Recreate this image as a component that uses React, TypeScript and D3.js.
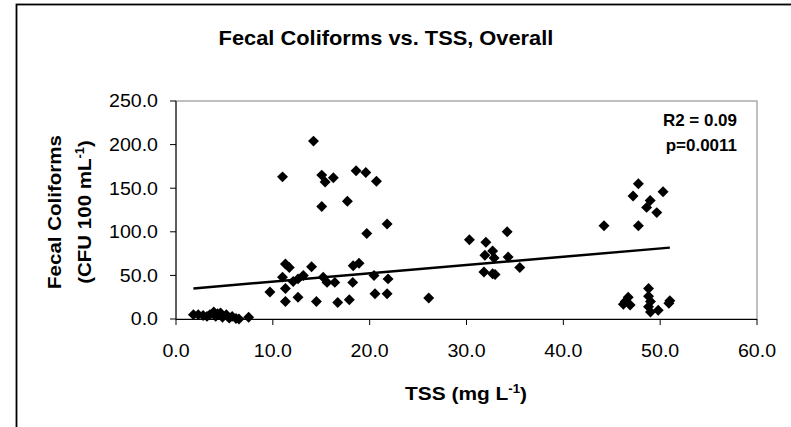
import React from "react";
import * as d3 from "d3";

const tssValues: number[] = [
  1.8, 2.3, 2.8, 3.2, 3.5, 3.9, 4.1, 4.3, 4.6, 4.8, 5.2, 5.5, 5.8, 6.2, 6.5, 7.5,
  14.2, 11.0, 15.05, 15.4, 16.25, 18.6, 19.6, 20.7, 15.05, 17.7, 19.7,
  11.3, 11.7, 11.0, 11.3, 9.7, 11.3, 12.6, 12.1, 12.6, 13.15, 14.0, 14.5, 15.2, 15.6, 16.4,
  16.7, 17.9, 18.25, 18.3, 18.9, 20.45, 20.55, 21.8, 21.9, 21.8, 26.1,
  30.3, 32.0, 34.2, 31.9, 32.7, 32.85, 34.3, 31.8, 32.7, 32.95, 35.5,
  47.75, 47.2, 50.3, 48.97, 48.6, 49.65, 44.2, 47.75,
  46.7, 46.4, 46.2, 46.9, 48.8, 48.8, 49.0, 48.8, 49.0, 49.8, 50.9, 51.0,
];
const fecalValues: number[] = [
  5, 5, 4, 3, 5, 8, 3, 6, 7, 2, 5, 1, 3, 0.5, 0, 2,
  204, 163, 165, 157, 162, 170, 168, 158, 129, 135, 98,
  63, 59, 48, 35, 31, 20, 25, 43, 46, 50, 60, 20, 48, 42, 42,
  19, 22, 42, 61, 64, 50, 29, 109, 46, 29, 24,
  91, 88, 100, 73, 78, 70, 71, 54, 52, 51, 59,
  155, 141, 146, 136, 128, 122, 107, 107,
  25, 20, 17, 16, 35, 26, 20, 14, 8, 10, 18, 21,
];

const xTicks: number[] = [0, 10, 20, 30, 40, 50, 60];
const yTicks: number[] = [0, 50, 100, 150, 200, 250];
const trendIntercept = 33.4;
const trendSlope = 0.95;

const titleText = "Fecal Coliforms vs. TSS, Overall";
const statsLines: string[] = ["R2 = 0.09", "p=0.0011"];

const W = 791;
const H = 427;
const plot = { left: 176, right: 757, top: 101, bottom: 319 };
const FONT = "'Liberation Sans', Arial, sans-serif";
const SX = 1.12;

function T(props: { x: number; y: number; anchor?: string; size: number; bold?: boolean; sx?: number; rotate?: number; children: React.ReactNode }) {
  const { x, y, anchor = "start", size, bold, sx = SX, rotate = 0, children } = props;
  return (
    <g transform={`translate(${x},${y}) rotate(${rotate}) scale(${sx},1)`}>
      <text x={0} y={0} textAnchor={anchor as any} fontSize={size} fontWeight={bold ? "bold" : "normal"}>
        {children}
      </text>
    </g>
  );
}

export default function App() {
  const x = d3.scaleLinear().domain([0, 60]).range([plot.left, plot.right]);
  const y = d3.scaleLinear().domain([0, 250]).range([plot.bottom, plot.top]);
  const diamond = d3.symbol(d3.symbolSquare, 60)() as string;
  const xMin = d3.min(tssValues) as number;
  const xMax = d3.max(tssValues) as number;
  const trendPts: [number, number][] = [xMin, xMax].map((v) => [x(v), y(trendIntercept + trendSlope * v)]);
  const line = d3.line();

  return (
    <svg width={W} height={H} style={{ position: "absolute", left: 0, top: 0, background: "#fff" }} fontFamily={FONT}>
      <rect x={0} y={0} width={W} height={H} fill="#fff" />
      <rect x={16.5} y={4.5} width={W + 20} height={H + 20} fill="none" stroke="#000" strokeWidth={1.8} />
      <T x={386} y={45} anchor="middle" size={19.5} bold>{titleText}</T>

      <rect x={plot.left} y={plot.top} width={plot.right - plot.left} height={plot.bottom - plot.top} fill="none" stroke="#808080" strokeWidth={1} />
      <line x1={plot.left} x2={plot.left} y1={plot.top} y2={plot.bottom} stroke="#000" />
      <line x1={plot.left} x2={plot.right} y1={plot.bottom + 0.5} y2={plot.bottom + 0.5} stroke="#000" />

      {yTicks.map((t) => (
        <g key={"y" + t}>
          <line x1={plot.left - 6} x2={plot.left} y1={y(t)} y2={y(t)} stroke="#000" />
          <T x={158} y={y(t) + 6.3} anchor="end" size={17.5}>{t.toFixed(1)}</T>
        </g>
      ))}
      {xTicks.map((t) => (
        <g key={"x" + t}>
          <line x1={x(t)} x2={x(t)} y1={plot.bottom} y2={plot.bottom + 6} stroke="#000" />
          <T x={x(t)} y={357} anchor="middle" size={17.5}>{t.toFixed(1)}</T>
        </g>
      ))}

      <path d={line(trendPts) as string} stroke="#000" strokeWidth={2.5} fill="none" />

      {tssValues.map((v, i) => (
        <path key={i} d={diamond} transform={`translate(${x(v)},${y(fecalValues[i])}) rotate(45)`} fill="#000" />
      ))}

      {statsLines.map((s, i) => (
        <T key={s} x={737} y={126 + i * 25} anchor="end" size={16.5} bold sx={1.03}>{s}</T>
      ))}

      <T x={466} y={400} anchor="middle" size={19} bold sx={1.1}>
        TSS (mg L<tspan dy={-7} fontSize={12}>-1</tspan><tspan dy={7}>)</tspan>
      </T>

      <T x={61} y={212} anchor="middle" size={19} bold sx={1.08} rotate={-90}>Fecal Coliforms</T>
      <T x={91} y={212} anchor="middle" size={19} bold sx={1.08} rotate={-90}>
        (CFU 100 mL<tspan dy={-7} fontSize={12}>-1</tspan><tspan dy={7}>)</tspan>
      </T>
    </svg>
  );
}
